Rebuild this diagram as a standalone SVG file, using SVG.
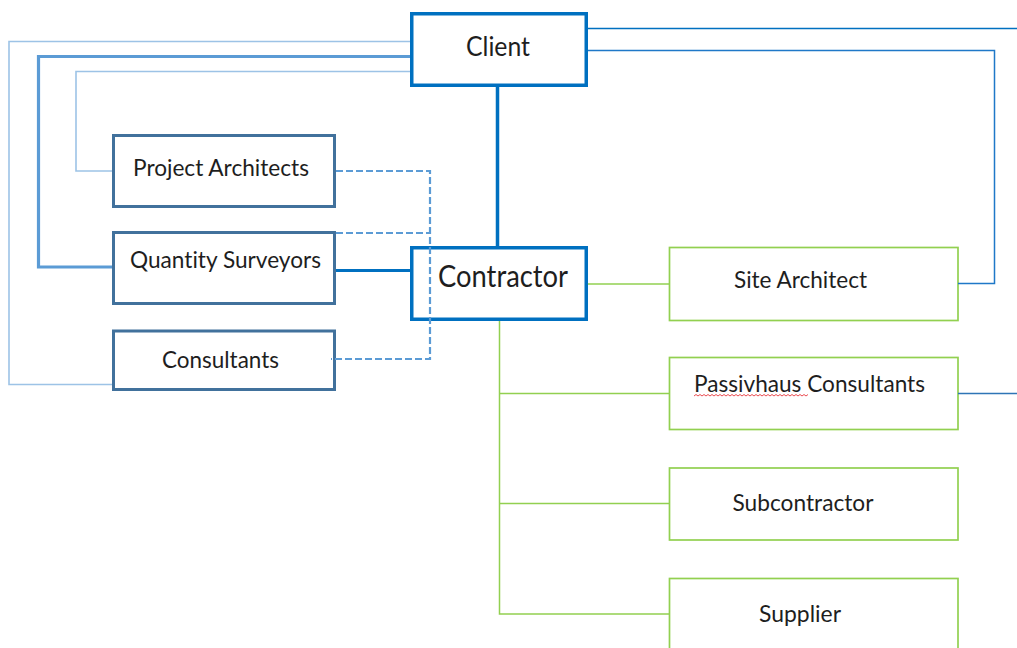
<svg xmlns="http://www.w3.org/2000/svg" width="1017" height="648" viewBox="0 0 1017 648">
<style>
.bg{fill:#ffffff}
.main{fill:#ffffff;stroke:#0070C0;stroke-width:3.5}
.left{fill:#ffffff;stroke:#41719C;stroke-width:3}
.green{fill:#ffffff;stroke:#92D050;stroke-width:1.7}
text{font-family:"Lato","Liberation Sans",sans-serif;fill:#1e1e1e;text-anchor:middle;font-variant-ligatures:none;font-feature-settings:"liga" 0,"clig" 0}
.t24{font-size:24px}
.t26{font-size:26px}
.t30{font-size:30px}
.c{fill:none}
.light{stroke:#9DC3E6;stroke-width:1.6}
.mid{stroke:#5B9BD5;stroke-width:3.2}
.dark{stroke:#0070C0}
.dash{stroke:#5B9BD5;stroke-width:2.2;stroke-dasharray:7 3}
.gl{stroke:#92D050;stroke-width:1.5}
</style>
<rect class="bg" x="0" y="0" width="1017" height="648"/>
<g id="nodes">
<g id="client"><rect class="main" x="411.75" y="13.75" width="174.5" height="71.5"/><text class="t26" x="498" y="56" textLength="64" lengthAdjust="spacingAndGlyphs">Client</text></g>
<g id="contractor"><rect class="main" x="411.75" y="247.75" width="174.5" height="71.5"/><text class="t30" x="503" y="287" textLength="130" lengthAdjust="spacingAndGlyphs">Contractor</text></g>
<g id="project-architects"><rect class="left" x="113.5" y="135.5" width="221" height="71"/><text class="t24" x="221" y="176" textLength="176" lengthAdjust="spacingAndGlyphs">Project Architects</text></g>
<g id="quantity-surveyors"><rect class="left" x="113.5" y="232.5" width="221" height="71"/><text class="t24" x="225.5" y="268" textLength="191" lengthAdjust="spacingAndGlyphs">Quantity Surveyors</text></g>
<g id="consultants"><rect class="left" x="113.5" y="331" width="221" height="58.5"/><text class="t24" x="220.5" y="368" textLength="117" lengthAdjust="spacingAndGlyphs">Consultants</text></g>
<g id="site-architect"><rect class="green" x="669.5" y="247.5" width="288.5" height="73"/><text class="t24" x="800.5" y="288" textLength="133" lengthAdjust="spacingAndGlyphs">Site Architect</text></g>
<g id="passivhaus-consultants"><rect class="green" x="669.5" y="357.5" width="288.5" height="72"/><text class="t24" x="809.5" y="392" textLength="231" lengthAdjust="spacingAndGlyphs">Passivhaus Consultants</text><path d="M694,396 l2,-1.5 l2,1.5 l2,-1.5 l2,1.5 l2,-1.5 l2,1.5 l2,-1.5 l2,1.5 l2,-1.5 l2,1.5 l2,-1.5 l2,1.5 l2,-1.5 l2,1.5 l2,-1.5 l2,1.5 l2,-1.5 l2,1.5 l2,-1.5 l2,1.5 l2,-1.5 l2,1.5 l2,-1.5 l2,1.5 l2,-1.5 l2,1.5 l2,-1.5 l2,1.5 l2,-1.5 l2,1.5 l2,-1.5 l2,1.5 l2,-1.5 l2,1.5 l2,-1.5 l2,1.5 l2,-1.5 l2,1.5 l2,-1.5 l2,1.5 l2,-1.5 l2,1.5 l2,-1.5 l2,1.5 l2,-1.5 l2,1.5 l2,-1.5 l2,1.5 l2,-1.5 l2,1.5 l2,-1.5 l2,1.5 l2,-1.5 l2,1.5 l2,-1.5 l2,1.5 l2,-1.5" fill="none" stroke="#E8383D" stroke-width="0.9"/></g>
<g id="subcontractor"><rect class="green" x="669.5" y="468" width="288.5" height="72"/><text class="t24" x="803" y="510.5" textLength="141" lengthAdjust="spacingAndGlyphs">Subcontractor</text></g>
<g id="supplier"><rect class="green" x="669.5" y="578.5" width="288.5" height="80"/><text class="t24" x="800" y="621.5" textLength="82" lengthAdjust="spacingAndGlyphs">Supplier</text></g>
</g>
<g id="connectors" class="c">
<path class="light" d="M410,41.5 H9 V384.5 H112"/>
<path class="mid" d="M410,56.5 H38.5 V267 H112"/>
<path class="light" d="M410,71.5 H76 V171 H112"/>
<path class="dark" stroke-width="1.6" d="M588,28.5 H1017"/>
<path stroke="#1F78C8" stroke-width="1.5" d="M588,50.5 H994.5 V283.5 H958"/>
<path class="dark" stroke-width="3.5" d="M497.5,87 V246"/>
<path class="dark" stroke-width="3" d="M336,270.5 H410"/>
<path class="dash" d="M336,171 H430 V359 H331"/>
<path class="dash" d="M336,233 H430"/>
<path class="gl" d="M588,284 H669"/>
<path class="gl" d="M499.5,321 V614 H669"/>
<path class="gl" d="M499.5,393.5 H669"/>
<path class="gl" d="M499.5,503.5 H669"/>
<path stroke="#2E75B6" stroke-width="1.5" d="M958,393.5 H1017"/>
</g>
</svg>
